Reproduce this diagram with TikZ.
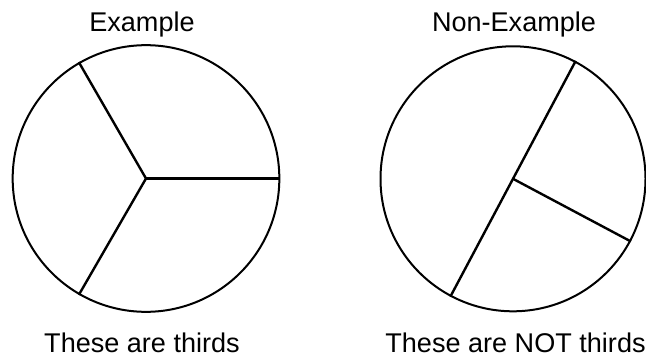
\documentclass[tikz,border=0pt]{standalone}
\usepackage{fontspec}
\setmainfont{Liberation Sans}
\usepackage{tikz}
\usetikzlibrary{positioning}
\definecolor{inkblack}{RGB}{0, 0, 0}

\tikzset{
    pie/.style={circle,draw=inkblack,line width=1.5pt,inner sep=0pt},
    cut/.style={inkblack,line width=1.8pt},
    caption/.style={anchor=base,inner sep=0pt,font=\fontsize{20.3}{24}\selectfont}
}

\begin{document}
\begin{tikzpicture}[x=0.75pt,y=0.75pt]
    \useasboundingbox (0,0) rectangle (646,358);
    \node[pie,minimum size=200pt] (ex) at (146,179.5) {};
    \node[pie,minimum size=198.75pt] (nex) at (513,179.2) {};
    % thirds
    \draw[cut] (ex.center) -- (ex.0);
    \draw[cut] (ex.center) -- (ex.120);
    \draw[cut] (ex.center) -- (ex.240);
    % not thirds
    \draw[cut] (nex.62) -- (nex.242);
    \draw[cut] (nex.center) -- (nex.-28);
    \node[caption] (extitle) at (142,326) {Example};
    \node[caption] (nextitle) at (514,326) {Non-Example};
    \node[caption] (exnote) at (142,5.3) {These are thirds};
    \node[caption] (nexnote) at (515.5,5.3) {These are NOT thirds};
\end{tikzpicture}
\end{document}
